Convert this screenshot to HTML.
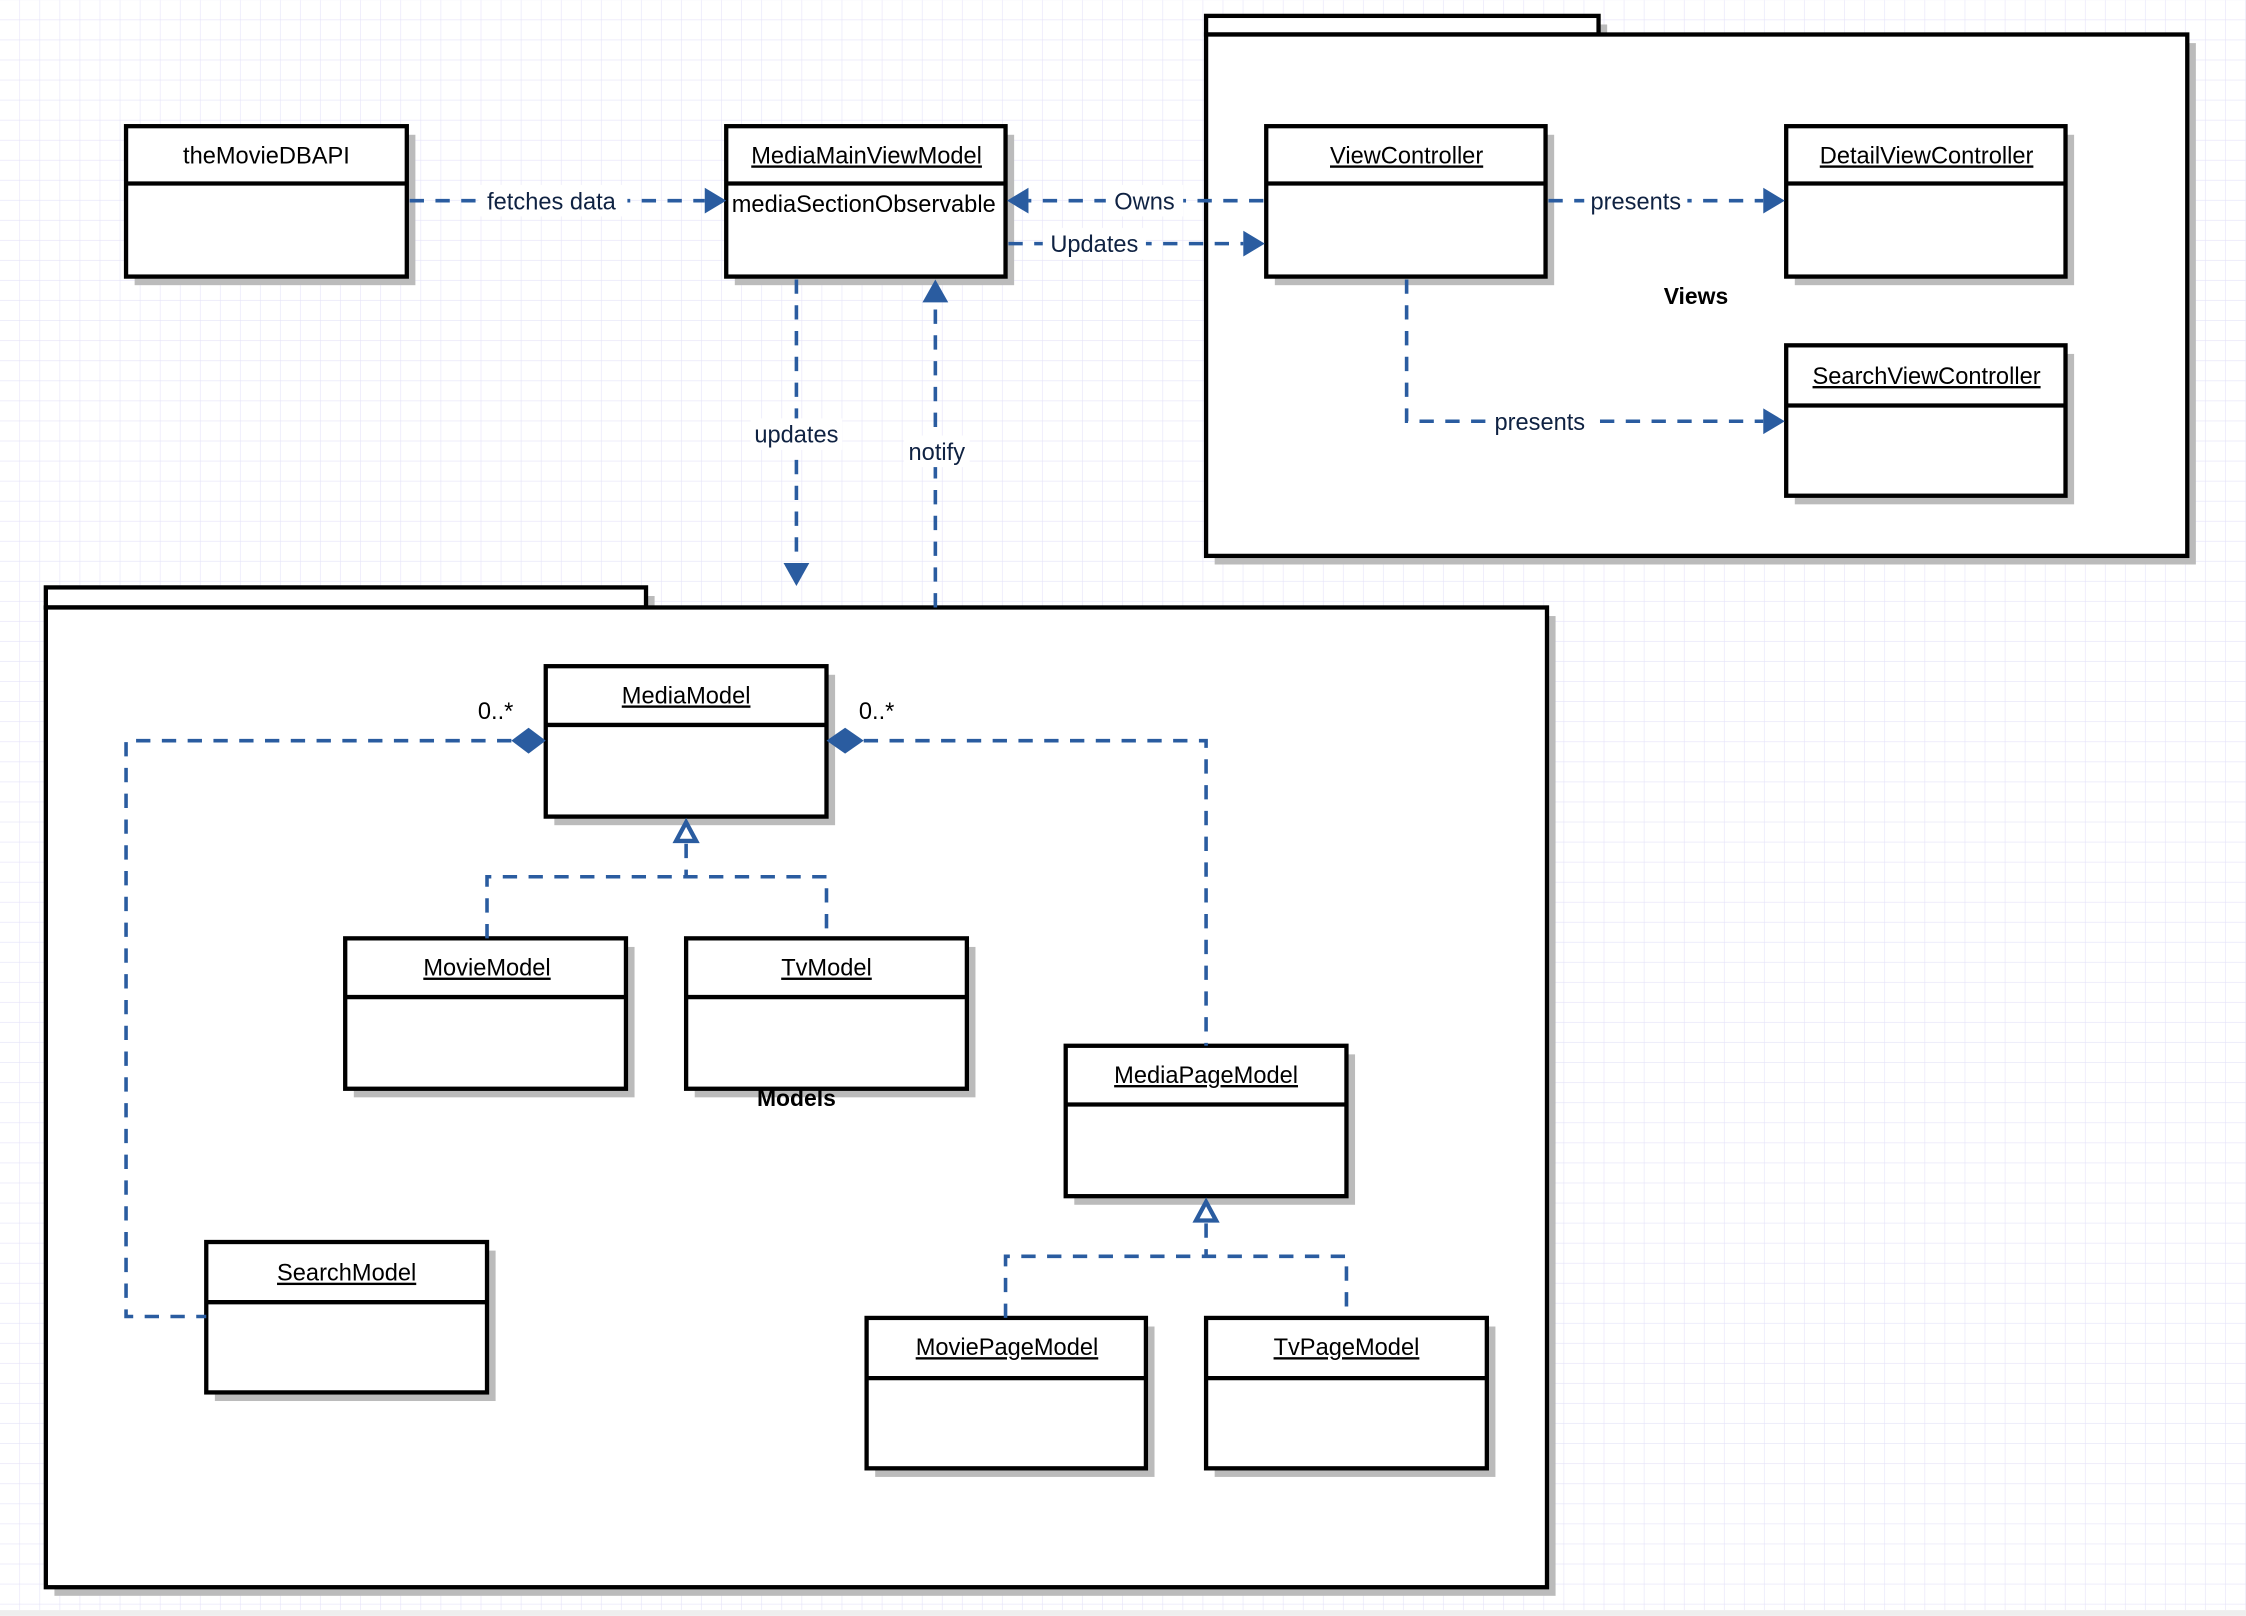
<!DOCTYPE html>
<html><head><meta charset="utf-8"><style>
html,body{margin:0;padding:0;background:#fff}
svg{display:block}
text{font-family:"Liberation Sans",sans-serif}
</style></head><body>
<svg width="2246" height="1616" viewBox="0 0 1568 1128" xmlns="http://www.w3.org/2000/svg">
<defs>
<pattern id="g" width="14" height="14" patternUnits="userSpaceOnUse">
<path d="M14 0V14M0 14H14" stroke="#e4e2f8" stroke-width="0.8" fill="none"/>
</pattern>
</defs>
<rect width="1568" height="1128" fill="#fff"/>
<rect width="1568" height="1124" fill="url(#g)"/>

<!-- packages -->
<g stroke="#000" stroke-width="3" fill="#fff">
<rect x="848" y="17" width="274" height="13" fill="#bbb" stroke="none"/>
<rect x="848" y="30" width="685" height="364" fill="#bbb" stroke="none"/>
<rect x="842" y="11" width="274" height="13"/>
<rect x="842" y="24" width="685" height="364"/>
<rect x="38" y="416" width="419" height="14" fill="#bbb" stroke="none"/>
<rect x="38" y="430" width="1048" height="684" fill="#bbb" stroke="none"/>
<rect x="32" y="410" width="419" height="14"/>
<rect x="32" y="424" width="1048" height="684"/>
</g>
<text x="1184" y="212" font-size="16" font-weight="bold" text-anchor="middle">Views</text>

<g stroke-width="3">
<g fill="#bbb">
<rect x="94" y="94" width="196" height="105"/>
<rect x="513" y="94" width="195" height="105"/>
<rect x="890" y="94" width="195" height="105"/>
<rect x="1253" y="94" width="195" height="105"/>
<rect x="1253" y="247" width="195" height="105"/>
<rect x="387" y="471" width="196" height="105"/>
<rect x="247" y="661" width="196" height="105"/>
<rect x="485" y="661" width="196" height="105"/>
<rect x="750" y="736" width="196" height="105"/>
<rect x="150" y="873" width="196" height="105"/>
<rect x="611" y="926" width="195" height="105"/>
<rect x="848" y="926" width="196" height="105"/>
</g>
<g fill="#fff" stroke="#000">
<rect x="88" y="88" width="196" height="105"/><line x1="88" y1="128" x2="284" y2="128"/>
<rect x="507" y="88" width="195" height="105"/><line x1="507" y1="128" x2="702" y2="128"/>
<rect x="884" y="88" width="195" height="105"/><line x1="884" y1="128" x2="1079" y2="128"/>
<rect x="1247" y="88" width="195" height="105"/><line x1="1247" y1="128" x2="1442" y2="128"/>
<rect x="1247" y="241" width="195" height="105"/><line x1="1247" y1="283" x2="1442" y2="283"/>
<rect x="381" y="465" width="196" height="105"/><line x1="381" y1="506" x2="577" y2="506"/>
<rect x="241" y="655" width="196" height="105"/><line x1="241" y1="696" x2="437" y2="696"/>
<rect x="479" y="655" width="196" height="105"/><line x1="479" y1="696" x2="675" y2="696"/>
<rect x="744" y="730" width="196" height="105"/><line x1="744" y1="771" x2="940" y2="771"/>
<rect x="144" y="867" width="196" height="105"/><line x1="144" y1="909" x2="340" y2="909"/>
<rect x="605" y="920" width="195" height="105"/><line x1="605" y1="962" x2="800" y2="962"/>
<rect x="842" y="920" width="196" height="105"/><line x1="842" y1="962" x2="1038" y2="962"/>
</g>
</g>
<text x="556" y="772" font-size="16" font-weight="bold" text-anchor="middle">Models</text>
<g font-size="16.5" text-anchor="middle" fill="#000">
<text x="186" y="114">theMovieDBAPI</text>
<text x="605" y="114" text-decoration="underline">MediaMainViewModel</text>
<text x="603" y="148">mediaSectionObservable</text>
<text x="982" y="114" text-decoration="underline">ViewController</text>
<text x="1345" y="114" text-decoration="underline">DetailViewController</text>
<text x="1345" y="268" text-decoration="underline">SearchViewController</text>
<text x="479" y="491" text-decoration="underline">MediaModel</text>
<text x="340" y="681" text-decoration="underline">MovieModel</text>
<text x="577" y="681" text-decoration="underline">TvModel</text>
<text x="842" y="756" text-decoration="underline">MediaPageModel</text>
<text x="242" y="894" text-decoration="underline">SearchModel</text>
<text x="703" y="946" text-decoration="underline">MoviePageModel</text>
<text x="940" y="946" text-decoration="underline">TvPageModel</text>
<text x="346" y="502">0..*</text>
<text x="612" y="502">0..*</text>
</g>

<g stroke="#2a5ca0" stroke-width="2.5" stroke-dasharray="10,8" fill="none">
<path d="M286 140H492"/>
<path d="M882 140H718"/>
<path d="M704 170H868"/>
<path d="M1081 140H1231"/>
<path d="M982 195V294H1231"/>
<path d="M556 195V393"/>
<path d="M653 424V211"/>
<path d="M357 517H88V919H144"/>
<path d="M603 517H842V730"/>
<path d="M479 589V612M340 655V612H577V655"/>
<path d="M842 854V877M702 920V877H940V920"/>
</g>
<g fill="#2a5ca0">
<path d="M492 131L507 140L492 149Z"/>
<path d="M718 131L703 140L718 149Z"/>
<path d="M868 161L883 170L868 179Z"/>
<path d="M1231 131L1246 140L1231 149Z"/>
<path d="M1231 285L1246 294L1231 303Z"/>
<path d="M547 393L556 409L565 393Z"/>
<path d="M644 211L653 195L662 211Z"/>
<path d="M381 517L369 508L357 517L369 526Z"/>
<path d="M577 517L590 508L603 517L590 526Z"/>
</g>
<g fill="#fff" stroke="#2a5ca0" stroke-width="3">
<path d="M479 574L472 587H486Z"/>
<path d="M842 839L835 852H849Z"/>
</g>
<g font-size="16.5" text-anchor="middle" fill="#0f2242">
<rect x="334" y="129" width="104" height="22" fill="#fff"/>
<text x="385" y="146">fetches data</text>
<rect x="772" y="129" width="54" height="22" fill="#fff"/>
<text x="799" y="146">Owns</text>
<rect x="728" y="159" width="72" height="22" fill="#fff"/>
<text x="764" y="176">Updates</text>
<rect x="1106" y="129" width="72" height="22" fill="#fff"/>
<text x="1142" y="146">presents</text>
<rect x="1039" y="283" width="72" height="22" fill="#fff"/>
<text x="1075" y="300">presents</text>
<rect x="524" y="292" width="64" height="22" fill="#fff"/>
<text x="556" y="309">updates</text>
<rect x="631" y="304" width="46" height="22" fill="#fff"/>
<text x="654" y="321">notify</text>
</g>
<rect x="0" y="1124" width="1568" height="4" fill="#eee"/>
</svg>
</body></html>
